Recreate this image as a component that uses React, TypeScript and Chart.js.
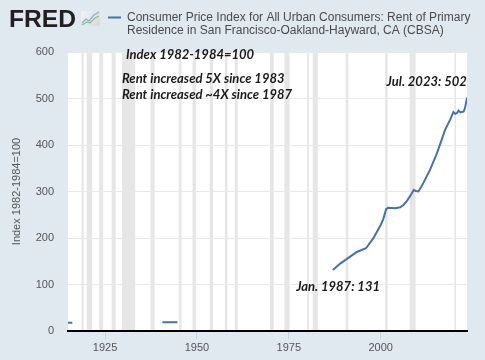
import React, { useEffect, useRef } from 'react';
import { Chart, registerables } from 'chart.js';

Chart.register(...registerables);

// ---- Data ----
const RENT_YEARS: number[] = [
  1914.92, 1915.5, 1916.1, 1917.0,
  1940.6, 1941.5, 1942.5, 1943.5, 1944.7, 1960.0,
  1987.0, 1989.0, 1991.5, 1993.5, 1996.0, 1998.0, 2000.0, 2000.7, 2001.5, 2002.0,
  2004.0, 2005.3, 2006.2, 2007.0, 2008.0, 2009.0, 2009.6, 2010.3, 2011.6, 2013.4,
  2015.3, 2016.6, 2017.5, 2018.9, 2019.8, 2020.3, 2020.8, 2021.2, 2021.7, 2022.1,
  2022.6, 2023.0, 2023.5,
];
const RENT_VALUES: (number | null)[] = [
  17.6, 17.7, 17.8, null,
  18.6, 18.7, 18.7, 18.8, 18.8, null,
  131, 145, 159, 170, 178, 199, 228, 240, 262, 265,
  264, 266, 271, 278, 290, 303, 301, 300, 318, 346,
  382, 411, 432, 454, 471, 467, 469, 474, 470, 471,
  472, 481, 502,
];

const X_TICKS = [1925, 1950, 1975, 2000];
const X_MIN = 1914.92;
const X_MAX = 2023.5;
const Y_MIN = 0;
const Y_MAX = 600;
const Y_STEP = 100;

const RECESSION_STARTS = [
  1918.6, 1920.0, 1923.4, 1926.8, 1929.6, 1937.4, 1945.1, 1948.8, 1953.5, 1957.6,
  1960.3, 1969.9, 1973.8, 1980.0, 1981.5, 1990.5, 2001.2, 2007.9, 2020.1,
];
const RECESSION_ENDS = [
  1919.2, 1921.5, 1924.5, 1927.9, 1933.2, 1938.5, 1945.8, 1949.8, 1954.4, 1958.3,
  1961.1, 1970.9, 1975.2, 1980.5, 1982.9, 1991.2, 2001.9, 2009.5, 2020.3,
];

const SERIES_LABEL_LINES = [
  'Consumer Price Index for All Urban Consumers: Rent of Primary',
  'Residence in San Francisco-Oakland-Hayward, CA (CBSA)',
];
const Y_TITLE = 'Index 1982-1984=100';

const NOTE_TEXTS = [
  'Index 1982-1984=100',
  'Rent increased 5X since 1983',
  'Rent increased ~4X since 1987',
  'Jul. 2023: 502',
  'Jan. 1987: 131',
];
const NOTE_YEARS = [1930.7, 1929.6, 1929.6, 2023.45, 1977.0];
const NOTE_VALUES = [594, 543, 509, 535, 94];
const NOTE_ALIGN: CanvasTextAlign[] = ['left', 'left', 'left', 'right', 'left'];

// ---- Styles ----
const BG = '#e1e9f0';
const LINE_COLOR = '#4572a7';
const AXIS_FONT = '"Liberation Sans", Arial, sans-serif';

const decorPlugin = {
  id: 'fredDecor',
  beforeDraw(chart: any) {
    const { ctx, chartArea: a, width, height } = chart;
    ctx.save();
    ctx.fillStyle = BG;
    ctx.fillRect(0, 0, width, height);
    ctx.fillStyle = '#ffffff';
    ctx.fillRect(a.left, a.top, a.right - a.left, a.bottom - a.top);
    const xs = chart.scales.x;
    ctx.fillStyle = '#e6e6e6';
    for (let i = 0; i < RECESSION_STARTS.length; i++) {
      const x0 = Math.max(xs.getPixelForValue(RECESSION_STARTS[i]), a.left);
      const x1 = Math.min(xs.getPixelForValue(RECESSION_ENDS[i]), a.right);
      if (x1 > x0) ctx.fillRect(x0, a.top, Math.max(x1 - x0, 1.5), a.bottom - a.top);
    }
    ctx.restore();
  },
  afterDraw(chart: any) {
    const { ctx } = chart;
    ctx.save();
    // FRED logo
    ctx.fillStyle = '#231f20';
    ctx.font = `bold 23px ${AXIS_FONT}`;
    ctx.textBaseline = 'alphabetic';
    ctx.textAlign = 'left';
    const w = ctx.measureText('FRED').width;
    ctx.save();
    ctx.translate(9, 27);
    ctx.scale(67 / w, 1);
    ctx.fillText('FRED', 0, 0);
    ctx.restore();
    // icon
    const g = ctx.createLinearGradient(81, 11, 100, 26);
    g.addColorStop(0, '#f4f4f4');
    g.addColorStop(1, '#d8d8d8');
    ctx.fillStyle = g;
    ctx.fillRect(81, 11, 19, 15);
    ctx.lineWidth = 1.2;
    ctx.strokeStyle = '#7fb0d8';
    ctx.beginPath();
    ctx.moveTo(82, 23); ctx.lineTo(86, 19); ctx.lineTo(89, 21); ctx.lineTo(94, 15); ctx.lineTo(99, 12);
    ctx.stroke();
    ctx.strokeStyle = '#8cc08a';
    ctx.beginPath();
    ctx.moveTo(82, 25); ctx.lineTo(87, 22); ctx.lineTo(90, 23); ctx.lineTo(95, 18); ctx.lineTo(99, 16);
    ctx.stroke();
    // legend
    ctx.strokeStyle = LINE_COLOR;
    ctx.lineWidth = 2;
    ctx.beginPath();
    ctx.moveTo(108, 17.5);
    ctx.lineTo(121, 17.5);
    ctx.stroke();
    ctx.fillStyle = '#4a4a4a';
    ctx.font = `12px ${AXIS_FONT}`;
    ctx.textBaseline = 'middle';
    SERIES_LABEL_LINES.forEach((t, i) => ctx.fillText(t, 127, 17.5 + i * 13.5));
    // annotations
    const xs = chart.scales.x;
    const ys = chart.scales.y;
    ctx.fillStyle = '#1a1a1a';
    ctx.font = 'italic bold 13px Lato, "Open Sans", sans-serif';
    NOTE_TEXTS.forEach((t, i) => {
      ctx.textAlign = NOTE_ALIGN[i];
      ctx.fillText(t, xs.getPixelForValue(NOTE_YEARS[i]), ys.getPixelForValue(NOTE_VALUES[i]));
    });
    ctx.restore();
  },
};

export default function App() {
  const ref = useRef<HTMLCanvasElement | null>(null);
  useEffect(() => {
    document.body.style.margin = '0';
    const canvas = ref.current;
    if (!canvas) return;
    const points = RENT_YEARS.map((x, i) => ({ x, y: RENT_VALUES[i] }));
    const chart = new Chart(canvas, {
      type: 'line',
      data: {
        datasets: [
          {
            label: SERIES_LABEL_LINES.join(' '),
            data: points as any,
            borderColor: LINE_COLOR,
            borderWidth: 2,
            pointRadius: 0,
            fill: false,
            spanGaps: false,
            tension: 0,
          },
        ],
      },
      options: {
        responsive: false,
        animation: false,
        devicePixelRatio: 1,
        layout: { padding: { top: 52, right: 18, left: 0, bottom: 0 } },
        plugins: { legend: { display: false }, tooltip: { enabled: false }, title: { display: false } },
        scales: {
          x: {
            type: 'linear',
            min: X_MIN,
            max: X_MAX,
            afterBuildTicks: (s: any) => {
              s.ticks = X_TICKS.map((v) => ({ value: v }));
            },
            afterFit: (s: any) => {
              s.height = 29;
            },
            grid: {
              drawOnChartArea: false,
              drawTicks: true,
              tickLength: 8,
              color: '#c6d3e2',
            },
            border: { display: true, color: '#000000', width: 2 },
            ticks: {
              color: '#555555',
              font: { family: AXIS_FONT, size: 11 },
              padding: 2,
              maxRotation: 0,
              autoSkip: false,
              callback: (v: any) => String(v),
            },
          },
          y: {
            type: 'linear',
            min: Y_MIN,
            max: Y_MAX,
            afterFit: (s: any) => {
              s.width = 68;
            },
            grid: { color: '#e8e8e8', drawTicks: false, lineWidth: 1 },
            border: { display: false },
            ticks: {
              stepSize: Y_STEP,
              color: '#555555',
              font: { family: AXIS_FONT, size: 11 },
              padding: 14,
            },
            title: {
              display: true,
              text: Y_TITLE,
              color: '#555555',
              font: { family: AXIS_FONT, size: 11 },
              padding: { top: 10, bottom: 0 },
            },
          },
        },
      },
      plugins: [decorPlugin],
    });
    return () => chart.destroy();
  }, []);
  return (
    <div style={{ position: 'absolute', left: 0, top: 0, width: 485, height: 360 }}>
      <canvas ref={ref} width={485} height={360} style={{ display: 'block' }} />
    </div>
  );
}
